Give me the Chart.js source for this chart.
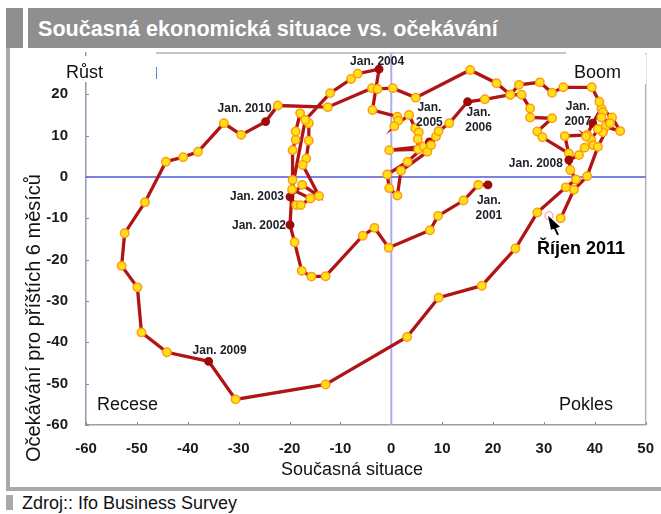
<!DOCTYPE html>
<html>
<head>
<meta charset="utf-8">
<script src="https://cdn.jsdelivr.net/npm/chart.js@4.4.1/dist/chart.umd.min.js"></script>
<style>
  html, body { margin: 0; padding: 0; background: #ffffff; }
  #wrap { position: relative; width: 661px; height: 514px; overflow: hidden; background: #fff; font-family: 'Liberation Sans', Arial, sans-serif; }
  .abs { position: absolute; }
</style>
</head>
<body>
<div id="wrap">
  <div class="abs" style="left:6px;top:8px;width:655px;height:40px;background:#8f8f8f;"></div>
  <div class="abs" style="left:23px;top:8px;width:5px;height:40px;background:#ffffff;"></div>
  <div class="abs" style="left:38px;top:8px;height:40px;line-height:42px;color:#ffffff;font-weight:bold;font-size:21.6px;white-space:nowrap;">Současná ekonomická situace vs. očekávání</div>
  <div class="abs" style="left:6px;top:48px;width:4px;height:443px;background:#a9a9a9;"></div>
  <div class="abs" style="left:6px;top:487px;width:655px;height:4px;background:#a9a9a9;"></div>
  <div class="abs" style="left:6px;top:495px;width:7px;height:15px;background:#a9a9a9;"></div>
  <div class="abs" style="left:22px;top:492px;line-height:22px;font-size:18px;color:#111;white-space:nowrap;">Zdroj:: Ifo Business Survey</div>
  <canvas id="c" class="abs" width="661" height="514" style="left:0;top:0;"></canvas>
</div>
<script>
// ---- Data ----
// Current situation (x) for each point of the path, Jan 2001 ... Oct 2011
const situation = [
  19.0, 17.1, 14.2, 9.2, 7.6, -0.5, -3.3, -5.6, -12.9, -15.7, -17.6, -19.0,
  -19.9, -19.4, -19.4, -18.8, -18.8, -17.9, -16.2, -16.2, -16.7, -17.4, -14.2, -17.5,
  -19.9, -18.7, -17.8, -15.9, -19.5, -16.9, -12.0, -7.9, -6.6,
  -2.4, -3.7, 1.2, 1.4, 0.6, 3.5, 4.7, 5.4, 5.2, 5.3, -0.4, 6.4,
  7.5, 3.2, -0.8, -0.4, 1.2, 1.9, 7.1, 7.8, 8.8, 9.3, 11.4,
  15.0, 18.4, 23.4, 25.6, 27.3, 27.3, 31.6, 28.7, 29.7, 34.9, 34.1, 38.5,
  39.6, 41.3, 43.4, 45.0, 42.1, 41.6, 40.6, 39.3, 38.3, 39.7, 38.0, 36.9,
  34.9, 35.2, 36.3, 34.3, 28.7, 24.4, 17.8, 9.3, 3.1, -12.9, -30.6,
  -35.9, -44.1, -49.1, -49.9, -53.0, -52.4, -48.4, -44.3, -40.9, -38.0, -32.9, -29.5,
  -24.7, -22.3, -12.5, -3.8, -2.7, 0.3, 4.8, 15.5, 20.7, 23.4, 25.1, 29.2, 31.6, 33.8, 39.4,
  40.9, 41.6, 41.3, 43.0, 40.6, 38.5, 35.9, 33.3
];
// Expectations for the next 6 months (y), same order
const expectations = [
  -1.9, -1.9, -5.7, -9.4, -12.9, -17.1, -12.3, -14.2, -24.0, -24.1, -22.7, -15.8,
  -11.6, -0.7, 6.5, 9.0, 11.0, 15.4, 13.0, 8.8, 4.5, 2.9, -4.6, -1.9,
  -4.8, -6.8, -6.8, -5.2, -3.0, 13.8, 20.3, 23.7, 25.0,
  26.1, 16.2, 14.6, 13.6, 12.3, 15.0, 11.8, 10.8, 9.2, 6.7, 6.5, 7.4,
  8.5, 3.7, 0.6, -2.7, -4.5, 1.5, 6.1, 7.7, 9.8, 11.1, 13.0,
  18.2, 18.8, 19.9, 19.9, 16.6, 14.4, 14.2, 11.0, 9.6, 5.7, 9.9, 10.2,
  13.0, 16.6, 14.4, 11.1, 12.2, 10.8, 11.6, 9.0, 9.8, 7.7, 7.1, 5.3,
  4.1, 1.7, -0.6, -2.5, -8.6, -17.3, -26.3, -29.2, -38.7, -50.2, -53.8,
  -44.6, -42.4, -37.6, -26.7, -21.5, -13.6, -6.1, 3.7, 4.8, 6.1, 13.0, 10.2,
  13.4, 17.3, 16.9, 21.5, 21.3, 21.5, 19.2, 25.9, 22.7, 19.9, 22.3, 22.9, 20.4, 21.7, 21.7,
  18.2, 15.7, 14.4, 13.0, 7.3, 0.2, -3.1, -10.0
];
// January markers: index into the path and their label
const janIndex  = [0, 12, 24, 33, 45, 56, 68, 80, 91, 103];
const janLabels = ['Jan. 2001', 'Jan. 2002', 'Jan. 2003', 'Jan. 2004', 'Jan. 2005',
                   'Jan. 2006', 'Jan. 2007', 'Jan. 2008', 'Jan. 2009', 'Jan. 2010'];
// Latest point (October 2011)
const latestX = [31.0];
const latestY = [-9.4];
const latestLabel = 'Říjen 2011';
// Axes
const xTicks = [-60, -50, -40, -30, -20, -10, 0, 10, 20, 30, 40, 50];
const yTicks = [-60, -50, -40, -30, -20, -10, 0, 10, 20];
const quadrantLabels = ['Růst', 'Boom', 'Recese', 'Pokles'];
const xTitle = 'Současná situace';
const yTitle = 'Očekávání pro příštích 6 měsíců';

// ---- Layout / style (kept apart from the data) ----
const janLabelLayout = [ // pixel offsets from the January point, alignment, stacked?
  {dx: 1, dy: 16, align: 'center', two: true},
  {dx: -4, dy: 1, align: 'right'},
  {dx: -6, dy: 0, align: 'right'},
  {dx: -2, dy: -7, align: 'center'},
  {dx: 0, dy: -34, align: 'center', two: true},
  {dx: 11, dy: 11, align: 'center', two: true},
  {dx: -15, dy: -17, align: 'center', two: true},
  {dx: -6, dy: 4, align: 'right'},
  {dx: 11, dy: -11, align: 'center'},
  {dx: -21, dy: -13, align: 'center'}
];
const quadrantLayout = [
  {x: 66, y: 73, box: [58, 56, 98, 26]},
  {x: 574, y: 73, box: [566, 54, 80, 30]},
  {x: 97, y: 405, box: null},
  {x: 559, y: 405, box: null}
];
const TICK_FONT = {family: "'Liberation Sans Narrow', 'Liberation Sans', Arial, sans-serif", size: 15, weight: 'bold'};
const LABEL_FONT = "bold 12px 'Liberation Sans Narrow', 'Liberation Sans', Arial, sans-serif";

const points = situation.map((x, i) => ({x: x, y: expectations[i]}));
const isJan = situation.map((_, i) => janIndex.includes(i));

const overlay = {
  id: 'overlay',
  beforeDatasetsDraw(chart) {
    const {ctx, chartArea: a, scales: {x, y}} = chart;
    ctx.save();
    ctx.strokeStyle = '#b4b4b4';
    ctx.lineWidth = 1.5;
    ctx.beginPath();
    ctx.moveTo(a.right, a.top); ctx.lineTo(a.right, a.bottom);
    ctx.moveTo(156, a.top); ctx.lineTo(566, a.top);
    ctx.stroke();
    ctx.strokeStyle = '#8a8a8a';
    ctx.lineWidth = 1;
    ctx.beginPath();
    xTicks.forEach(v => { const px = Math.round(x.getPixelForValue(v)) + 0.5; ctx.moveTo(px, a.bottom); ctx.lineTo(px, a.bottom - 3); });
    yTicks.forEach(v => { const py = Math.round(y.getPixelForValue(v)) + 0.5; ctx.moveTo(a.left, py); ctx.lineTo(a.left + 3, py); });
    ctx.stroke();
    const x0 = x.getPixelForValue(0), y0 = y.getPixelForValue(0);
    ctx.strokeStyle = '#a9acf6';
    ctx.lineWidth = 2;
    ctx.beginPath(); ctx.moveTo(x0, a.top); ctx.lineTo(x0, a.bottom); ctx.stroke();
    ctx.strokeStyle = '#5558dd';
    ctx.lineWidth = 1.3;
    ctx.beginPath(); ctx.moveTo(a.left, y0); ctx.lineTo(a.right, y0); ctx.stroke();
    ctx.fillStyle = '#ffffff';
    quadrantLayout.forEach(q => { if (q.box) ctx.fillRect(q.box[0], q.box[1], q.box[2], q.box[3]); });
    ctx.strokeStyle = '#5a7ee8';
    ctx.lineWidth = 1;
    ctx.beginPath(); ctx.moveTo(156.5, 67); ctx.lineTo(156.5, 79); ctx.stroke();
    ctx.restore();
  },
  afterDatasetsDraw(chart) {
    const {ctx, scales: {x, y}} = chart;
    ctx.save();
    ctx.fillStyle = '#1e1e28';
    ctx.font = LABEL_FONT;
    ctx.textBaseline = 'middle';
    janIndex.forEach((idx, k) => {
      const L = janLabelLayout[k];
      const px = x.getPixelForValue(situation[idx]) + L.dx;
      const py = y.getPixelForValue(expectations[idx]) + L.dy;
      ctx.textAlign = L.align;
      if (L.two) {
        const parts = janLabels[k].split(' ');
        ctx.fillText(parts[0], px, py);
        ctx.fillText(parts[1], px, py + 15);
      } else {
        ctx.fillText(janLabels[k], px, py);
      }
    });
    const lx = x.getPixelForValue(latestX[0]), ly = y.getPixelForValue(latestY[0]);
    ctx.fillStyle = '#000000';
    ctx.strokeStyle = '#000000';
    ctx.lineWidth = 2;
    ctx.beginPath(); ctx.moveTo(lx + 2, ly + 4); ctx.lineTo(lx + 9, ly + 19); ctx.stroke();
    ctx.beginPath();
    ctx.moveTo(lx - 1, ly); ctx.lineTo(lx + 11, ly + 11); ctx.lineTo(lx + 2, ly + 14); ctx.closePath();
    ctx.fill();
    ctx.font = "bold 18px 'Liberation Sans', Arial, sans-serif";
    ctx.textAlign = 'left';
    ctx.fillText(latestLabel, lx - 12, ly + 33);
    ctx.fillStyle = '#111111';
    ctx.font = "18px 'Liberation Sans', Arial, sans-serif";
    quadrantLabels.forEach((t, i) => ctx.fillText(t, quadrantLayout[i].x, quadrantLayout[i].y));
    ctx.font = "18px 'Liberation Sans', Arial, sans-serif";
    ctx.textAlign = 'center';
    ctx.fillText(xTitle, 352, 470);
    ctx.save();
    ctx.translate(34, 318);
    ctx.rotate(-Math.PI / 2);
    ctx.font = "20px 'Liberation Sans', Arial, sans-serif";
    ctx.fillText(yTitle, 0, 0);
    ctx.restore();
    ctx.restore();
  }
};

new Chart(document.getElementById('c'), {
  type: 'scatter',
  data: {
    datasets: [
      {
        data: points,
        showLine: true,
        borderColor: '#b01414',
        borderWidth: 3.3,
        tension: 0,
        pointRadius: isJan.map(j => j ? 3.7 : 4.2),
        pointBackgroundColor: isJan.map(j => j ? '#9e0a0a' : '#ffe11a'),
        pointBorderColor: isJan.map(j => j ? '#9e0a0a' : '#ff9c10'),
        pointBorderWidth: 1.5
      },
      {
        data: latestX.map((v, i) => ({x: v, y: latestY[i]})),
        showLine: false,
        pointRadius: 4,
        pointBackgroundColor: 'rgba(255,255,255,0)',
        pointBorderColor: '#f2b8b8',
        pointBorderWidth: 1.5
      }
    ]
  },
  options: {
    responsive: false,
    animation: false,
    events: [],
    layout: {padding: {left: 0, top: 53, right: 13, bottom: 39}},
    plugins: {legend: {display: false}, tooltip: {enabled: false}, title: {display: false}},
    scales: {
      x: {
        type: 'linear', min: -60, max: 50,
        afterBuildTicks: s => { s.ticks = xTicks.map(v => ({value: v})); },
        afterFit: s => { s.height = 50; },
        ticks: {font: TICK_FONT, color: '#1a1a1a', padding: 7, maxRotation: 0},
        grid: {display: false},
        border: {display: true, color: '#a0a0a0', width: 1.5}
      },
      y: {
        type: 'linear', min: -60, max: 30,
        afterBuildTicks: s => { s.ticks = yTicks.map(v => ({value: v})); },
        afterFit: s => { s.width = 86; },
        ticks: {font: TICK_FONT, color: '#1a1a1a', padding: 10},
        grid: {display: false},
        border: {display: true, color: '#8c9bb0', width: 1.5}
      }
    }
  },
  plugins: [overlay]
});
</script>
</body>
</html>
